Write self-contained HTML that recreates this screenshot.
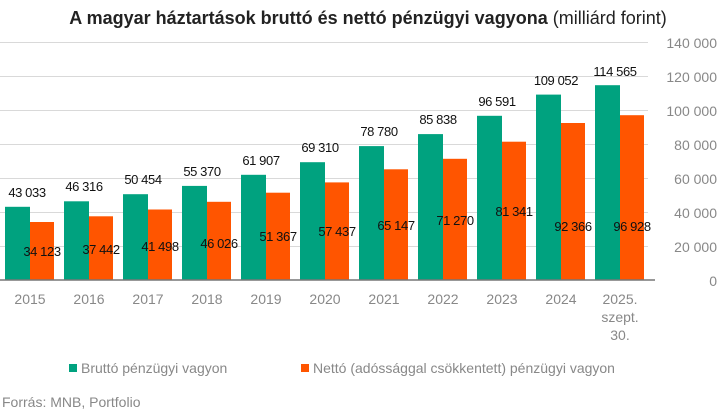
<!DOCTYPE html>
<html><head><meta charset="utf-8"><style>
body{margin:0;background:#fff;}
svg{display:block;font-family:"Liberation Sans",sans-serif;}
</style></head><body>
<svg width="718" height="415" viewBox="0 0 718 415" xmlns="http://www.w3.org/2000/svg">
<text x="368" y="24" text-anchor="middle" font-size="18" fill="#222"><tspan font-weight="bold">A magyar háztartások bruttó és nettó pénzügyi vagyona</tspan> (milliárd forint)</text>
<g stroke="#d9d9d9" stroke-width="1">
<line x1="0" x2="648" y1="42.5" y2="42.5"/><line x1="0" x2="648" y1="76.5" y2="76.5"/>
<line x1="0" x2="648" y1="110.5" y2="110.5"/><line x1="0" x2="648" y1="144.5" y2="144.5"/>
<line x1="0" x2="648" y1="178.5" y2="178.5"/><line x1="0" x2="648" y1="212.5" y2="212.5"/>
<line x1="0" x2="648" y1="246.5" y2="246.5"/>
</g>
<g font-size="14" fill="#888" text-anchor="end">
<text x="717" y="48">140 000</text><text x="717" y="82">120 000</text><text x="717" y="116">100 000</text>
<text x="717" y="150">80 000</text><text x="717" y="184">60 000</text><text x="717" y="218">40 000</text>
<text x="717" y="252">20 000</text><text x="717" y="286">0</text>
</g>
<g fill="#00a27f">
<rect x="5" y="206.8" width="25" height="73.2"/>
<rect x="64" y="201.3" width="25" height="78.7"/>
<rect x="123" y="194.2" width="25" height="85.8"/>
<rect x="182" y="185.9" width="25" height="94.1"/>
<rect x="241" y="174.8" width="25" height="105.2"/>
<rect x="300" y="162.2" width="25" height="117.8"/>
<rect x="359" y="146.1" width="25" height="133.9"/>
<rect x="418" y="134.1" width="25" height="145.9"/>
<rect x="477" y="115.8" width="25" height="164.2"/>
<rect x="536" y="94.6" width="25" height="185.4"/>
<rect x="595" y="85.2" width="25" height="194.8"/>
</g>
<g fill="#ff5500">
<rect x="30" y="222.0" width="24" height="58.0"/>
<rect x="89" y="216.3" width="24" height="63.7"/>
<rect x="148" y="209.5" width="24" height="70.5"/>
<rect x="207" y="201.8" width="24" height="78.2"/>
<rect x="266" y="192.7" width="24" height="87.3"/>
<rect x="325" y="182.4" width="24" height="97.6"/>
<rect x="384" y="169.3" width="24" height="110.7"/>
<rect x="443" y="158.8" width="24" height="121.2"/>
<rect x="502" y="141.7" width="24" height="138.3"/>
<rect x="561" y="123.0" width="24" height="157.0"/>
<rect x="620" y="115.2" width="24" height="164.8"/>
</g>
<g font-size="13" fill="#111" text-anchor="middle" letter-spacing="-0.4">
<text x="27" y="197">43 033</text>
<text x="84" y="191">46 316</text>
<text x="143" y="184">50 454</text>
<text x="202" y="176">55 370</text>
<text x="261" y="165">61 907</text>
<text x="320" y="152">69 310</text>
<text x="379" y="136">78 780</text>
<text x="438" y="124">85 838</text>
<text x="497" y="106">96 591</text>
<text x="556" y="85">109 052</text>
<text x="615" y="76">114 565</text>
<text x="42" y="256">34 123</text>
<text x="101" y="254">37 442</text>
<text x="160" y="251">41 498</text>
<text x="219" y="248">46 026</text>
<text x="278" y="241">51 367</text>
<text x="337" y="236">57 437</text>
<text x="396" y="230">65 147</text>
<text x="455" y="225">71 270</text>
<text x="514" y="216">81 341</text>
<text x="573" y="231">92 366</text>
<text x="632" y="231">96 928</text>
</g>
<line x1="0" x2="655" y1="280" y2="280" stroke="#777" stroke-width="1.5"/>
<g font-size="14" fill="#888" text-anchor="middle">
<text x="30" y="304">2015</text><text x="89" y="304">2016</text><text x="148" y="304">2017</text>
<text x="207" y="304">2018</text><text x="266" y="304">2019</text><text x="325" y="304">2020</text>
<text x="384" y="304">2021</text><text x="443" y="304">2022</text><text x="502" y="304">2023</text>
<text x="561" y="304">2024</text><text x="620" y="304">2025.</text><text x="620" y="322">szept.</text><text x="620" y="340">30.</text>
</g>
<rect x="69" y="364" width="8" height="8" fill="#00a27f"/>
<text x="81" y="373" font-size="14" fill="#888">Bruttó pénzügyi vagyon</text>
<rect x="301" y="364" width="8" height="8" fill="#ff5500"/>
<text x="313" y="373" font-size="14" fill="#888">Nettó (adóssággal csökkentett) pénzügyi vagyon</text>
<text x="2" y="407" font-size="14" fill="#888">Forrás: MNB, Portfolio</text>
</svg>
</body></html>
